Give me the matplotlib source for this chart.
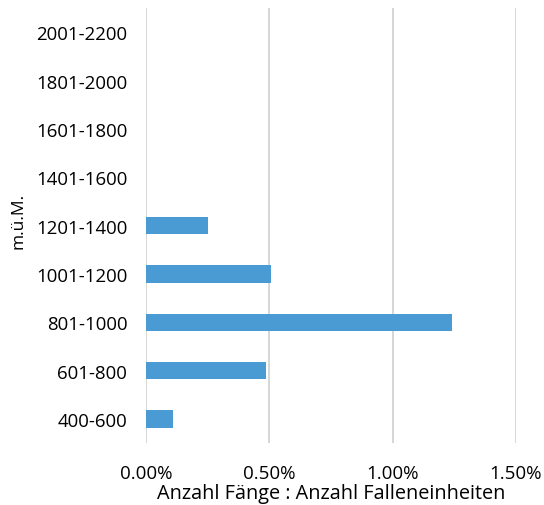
import matplotlib
matplotlib.use("Agg")
import matplotlib.pyplot as plt
from matplotlib.ticker import FuncFormatter, MultipleLocator

categories = ["400-600", "601-800", "801-1000", "1001-1200", "1201-1400",
              "1401-1600", "1601-1800", "1801-2000", "2001-2200"]
values = [0.0011, 0.00485, 0.0124, 0.00505, 0.0025, 0, 0, 0, 0]

plt.rcParams["font.family"] = ["Open Sans", "DejaVu Sans"]

fig = plt.figure(figsize=(5.44, 5.06), dpi=100)
ax = fig.add_axes([0.2684, 0.1225, 0.68, 0.8595])

ypos = range(len(categories))
ax.barh(ypos, values, height=0.36, color="#4a9ad4", zorder=3)

ax.set_xlim(0, 0.015)
ax.set_ylim(-0.5, len(categories) - 0.5)
ax.xaxis.set_major_locator(MultipleLocator(0.005))
ax.xaxis.set_major_formatter(FuncFormatter(lambda v, p: f"{v*100:.2f}%"))
ax.set_yticks(list(ypos))
ax.set_yticklabels(categories, fontweight="medium")

ax.grid(axis="x", color="#d0d0d0", linewidth=1.2, zorder=0)
ax.grid(axis="y", visible=False)
for s in ax.spines.values():
    s.set_visible(False)
ax.tick_params(axis="both", length=0, colors="#000000")
ax.tick_params(axis="x", pad=15, labelsize=13.5)
ax.tick_params(axis="y", pad=13.5, labelsize=13.4)

ax.set_xlabel("Anzahl Fänge : Anzahl Falleneinheiten", fontsize=14.3, labelpad=1)
ax.set_ylabel("m.ü.M.", fontsize=12.5)
ax.yaxis.set_label_coords(-0.322, 0.513)

fig.savefig("out.png", dpi=100)
